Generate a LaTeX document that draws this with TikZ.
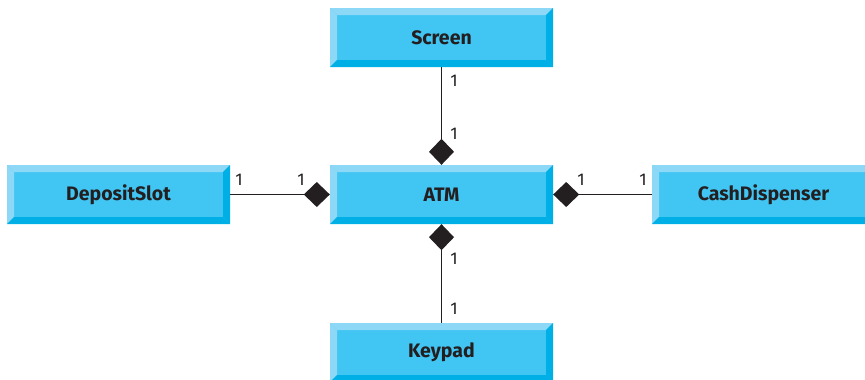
\documentclass[tikz,border=0pt]{standalone}
\usepackage{fontspec}
\setmainfont{Fira Sans}
\usetikzlibrary{arrows.meta}
\definecolor{facec}{HTML}{41C5F2}
\definecolor{lightc}{HTML}{8DD8F6}
\definecolor{darkc}{HTML}{00AFE5}
\definecolor{txtc}{HTML}{231F20}
\tikzset{
  umlbox/.style={minimum width=223pt, minimum height=59pt, inner sep=0pt,
    fill=facec, text=txtc, font=\fontsize{19.5}{19.5}\selectfont\bfseries,
    path picture={
      \coordinate (nw) at (path picture bounding box.north west);
      \coordinate (ne) at (path picture bounding box.north east);
      \coordinate (sw) at (path picture bounding box.south west);
      \coordinate (se) at (path picture bounding box.south east);
      \fill[lightc] (nw) -- (ne) -- ([shift={(-7pt,-7pt)}]ne) -- ([shift={(7pt,-7pt)}]nw) -- cycle;
      \fill[lightc] (nw) -- (sw) -- ([shift={(7pt,7pt)}]sw) -- ([shift={(7pt,-7pt)}]nw) -- cycle;
      \fill[darkc] (sw) -- (se) -- ([shift={(-7pt,7pt)}]se) -- ([shift={(7pt,7pt)}]sw) -- cycle;
      \fill[darkc] (ne) -- (se) -- ([shift={(-7pt,7pt)}]se) -- ([shift={(-7pt,-7pt)}]ne) -- cycle;
    }},
  assoc/.style={draw=txtc, line width=1.4pt, -{Diamond[length=26pt,width=25pt,fill=txtc]}},
  mult/.style={text=txtc, inner sep=0pt, font=\fontsize{17}{17}\selectfont}
}
\begin{document}
\begin{tikzpicture}[x=1pt,y=-1pt]
\useasboundingbox (0,0) rectangle (865,380);
\clip (0,0) rectangle (865,380);
\node[umlbox] (screen) at (441.5,37.5) {Screen};
\node[umlbox] (atm) at (441.5,194.5) {ATM};
\node[umlbox] (deposit) at (118.5,194.5) {DepositSlot};
\node[umlbox] (cash) at (763.5,194.5) {CashDispenser};
\node[umlbox] (keypad) at (441.5,352.5) {Keypad};
\draw[assoc] (screen) -- (atm);
\draw[assoc] (deposit) -- (atm);
\draw[assoc] (cash) -- (atm);
\draw[assoc] (keypad) -- (atm);
\node[mult] (m1) at (454,81) {1};
\node[mult] (m2) at (454,134) {1};
\node[mult] (m3) at (239,180) {1};
\node[mult] (m4) at (301,180) {1};
\node[mult] (m5) at (581,180) {1};
\node[mult] (m6) at (643,180) {1};
\node[mult] (m7) at (454,259) {1};
\node[mult] (m8) at (454,309) {1};
\end{tikzpicture}
\end{document}
